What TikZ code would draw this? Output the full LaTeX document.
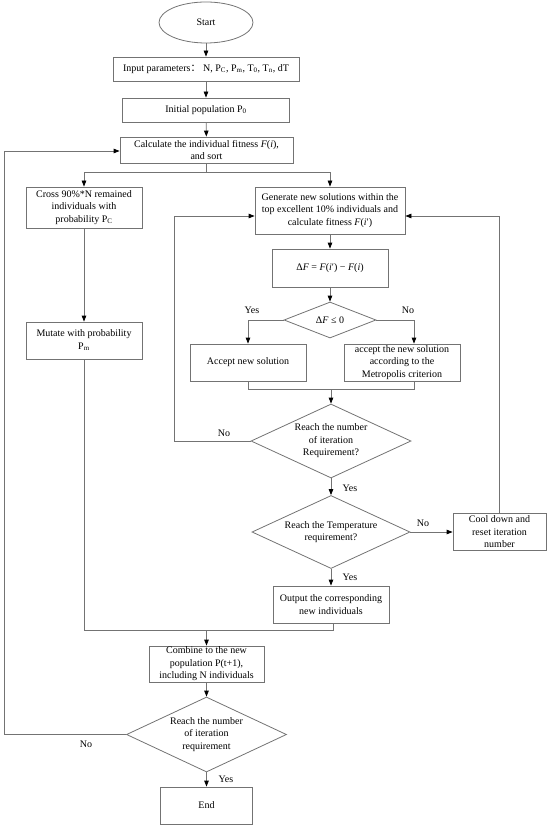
\documentclass[tikz,border=0pt]{standalone}
\usepackage{fontspec}
\setmainfont{Liberation Serif}
\newfontfamily\cjk{Noto Sans CJK SC}
\usetikzlibrary{shapes.geometric,arrows.meta}
\begin{document}
\begin{tikzpicture}[x=1pt,y=-1pt,
  font=\fontsize{10}{12.5}\selectfont,
  line/.style={draw=black!55, line width=0.8pt},
  arr/.style={line, -{Triangle[length=6pt,width=4.5pt,color=black]}},
  box/.style={line, rectangle, inner sep=0pt, align=center},
  dia/.style={line, diamond, inner sep=0pt},
  txt/.style={align=center, inner sep=0pt},
  lab/.style={inner sep=0pt}]
\useasboundingbox (0,0) rectangle (550,829);

% nodes
\node[line, ellipse, minimum width=94pt, minimum height=41pt, inner sep=0pt] (start) at (206,22.5) {Start};
\node[box, minimum width=186pt, minimum height=24pt] (inp) at (206,69) {Input parameters{\cjk ：} N, P\textsubscript{C}, P\textsubscript{m}, T\textsubscript{0}, T\textsubscript{n}, dT};
\node[box, minimum width=167pt, minimum height=24pt] (ini) at (206,110) {Initial population P\textsubscript{0}};
\node[box, minimum width=173pt, minimum height=26pt] (calc) at (206.5,150) {Calculate the individual fitness  \textit{F}(\textit{i}),\\and sort};

\node[box, minimum width=116pt, minimum height=41pt] (cross) at (84,207.5) {Cross 90\%*N remained\\individuals with\\probability P\textsubscript{C}};
\node[box, minimum width=116pt, minimum height=37pt] (mut) at (84,340.5) {Mutate with probability\\P\textsubscript{m}};

\node[box, minimum width=150pt, minimum height=47pt] (gen) at (330,210.5) {Generate new solutions within the\\top excellent 10\% individuals and\\calculate fitness  \textit{F}(\textit{i}′)};
\node[box, minimum width=116pt, minimum height=38pt] (dfb) at (330,268) {Δ\textit{F} = \textit{F}(\textit{i}′) − \textit{F}(\textit{i})};
\node[dia, minimum width=92pt, minimum height=36pt] (dfd) at (330,320) {};
\node[txt] (dfdt) at (dfd) {Δ\textit{F} ≤ 0};
\node[box, minimum width=116pt, minimum height=37pt] (acc) at (248,362.5) {Accept new solution};
\node[box, minimum width=116pt, minimum height=37pt] (met) at (402,362.5) {accept the new solution\\according to the\\Metropolis criterion};

\node[dia, minimum width=160pt, minimum height=74pt] (d1) at (331,441) {};
\node[txt] (d1t) at (d1) {Reach the number\\of iteration\\Requirement?};
\node[dia, minimum width=158pt, minimum height=73pt] (d2) at (331,532) {};
\node[txt] (d2t) at (d2) {Reach the Temperature\\requirement?};
\node[box, minimum width=93pt, minimum height=37pt] (cool) at (499.5,532) {Cool down and\\reset iteration\\number};
\node[box, minimum width=116pt, minimum height=37pt] (out) at (331,604.5) {Output the corresponding\\new individuals};

\node[box, minimum width=115pt, minimum height=36pt] (comb) at (206.5,664) {Combine to the new\\population P(t+1),\\including N individuals};
\node[dia, minimum width=160pt, minimum height=75pt] (d3) at (206.5,734.5) {};
\node[txt] (d3t) at (d3) {Reach the number\\of iteration\\requirement};
\node[box, minimum width=92pt, minimum height=37pt] (end) at (206.5,805.5) {End};

% labels
\node[lab] (y1) at (252,310) {Yes};
\node[lab] (n1) at (408,310) {No};
\node[lab] (n2) at (224,433) {No};
\node[lab] (y2) at (350,488) {Yes};
\node[lab] (n3) at (423,523) {No};
\node[lab] (y3) at (350,577) {Yes};
\node[lab] (n4) at (86,744) {No};
\node[lab] (y4) at (226,779) {Yes};

% helper coordinates
\coordinate (mtop) at (414,344);
\coordinate (mg) at (331,389);
\coordinate (lp) at (174,216);
\coordinate (mg2) at (206.5,630);
\coordinate (ob) at (333,623);
\coordinate (lp2) at (4,151);

% connectors
\draw[arr] (start) -- (inp);
\draw[arr] (inp) -- (ini);
\draw[arr] (ini) -- (calc);
\draw[arr] (calc.south) -- ++(0,9) -| (cross.north);
\draw[arr] (calc.south) -- ++(0,9) -| (gen.north);
\draw[arr] (cross) -- (mut);
\draw[arr] (gen) -- (dfb);
\draw[arr] (dfb) -- (dfd);
\draw[arr] (dfd.west) -| (acc.north);
\draw[arr] (dfd.east) -| (met.north -| mtop);
\draw[line] (acc.south) -- (acc.south |- mg) -- (mg -| mtop) -- (met.south -| mtop);
\draw[arr] (d1.north |- mg) -- (d1.north);
\draw[arr] (d1.west) -| (lp) -- (gen.west |- lp);
\draw[arr] (d1) -- (d2);
\draw[arr] (d2.east) -- (cool.west |- d2.east);
\draw[arr] (cool.north) |- (gen.east |- lp);
\draw[arr] (d2) -- (out);
\draw[line] (mut.south) |- (mg2 -| ob) -- (out.south -| ob);
\draw[arr] (comb.north |- mg2) -- (comb.north);
\draw[arr] (comb) -- (d3);
\draw[arr] (d3) -- (end);
\draw[arr] (d3.west) -| (lp2) -- (calc.west |- lp2);
\end{tikzpicture}
\end{document}
